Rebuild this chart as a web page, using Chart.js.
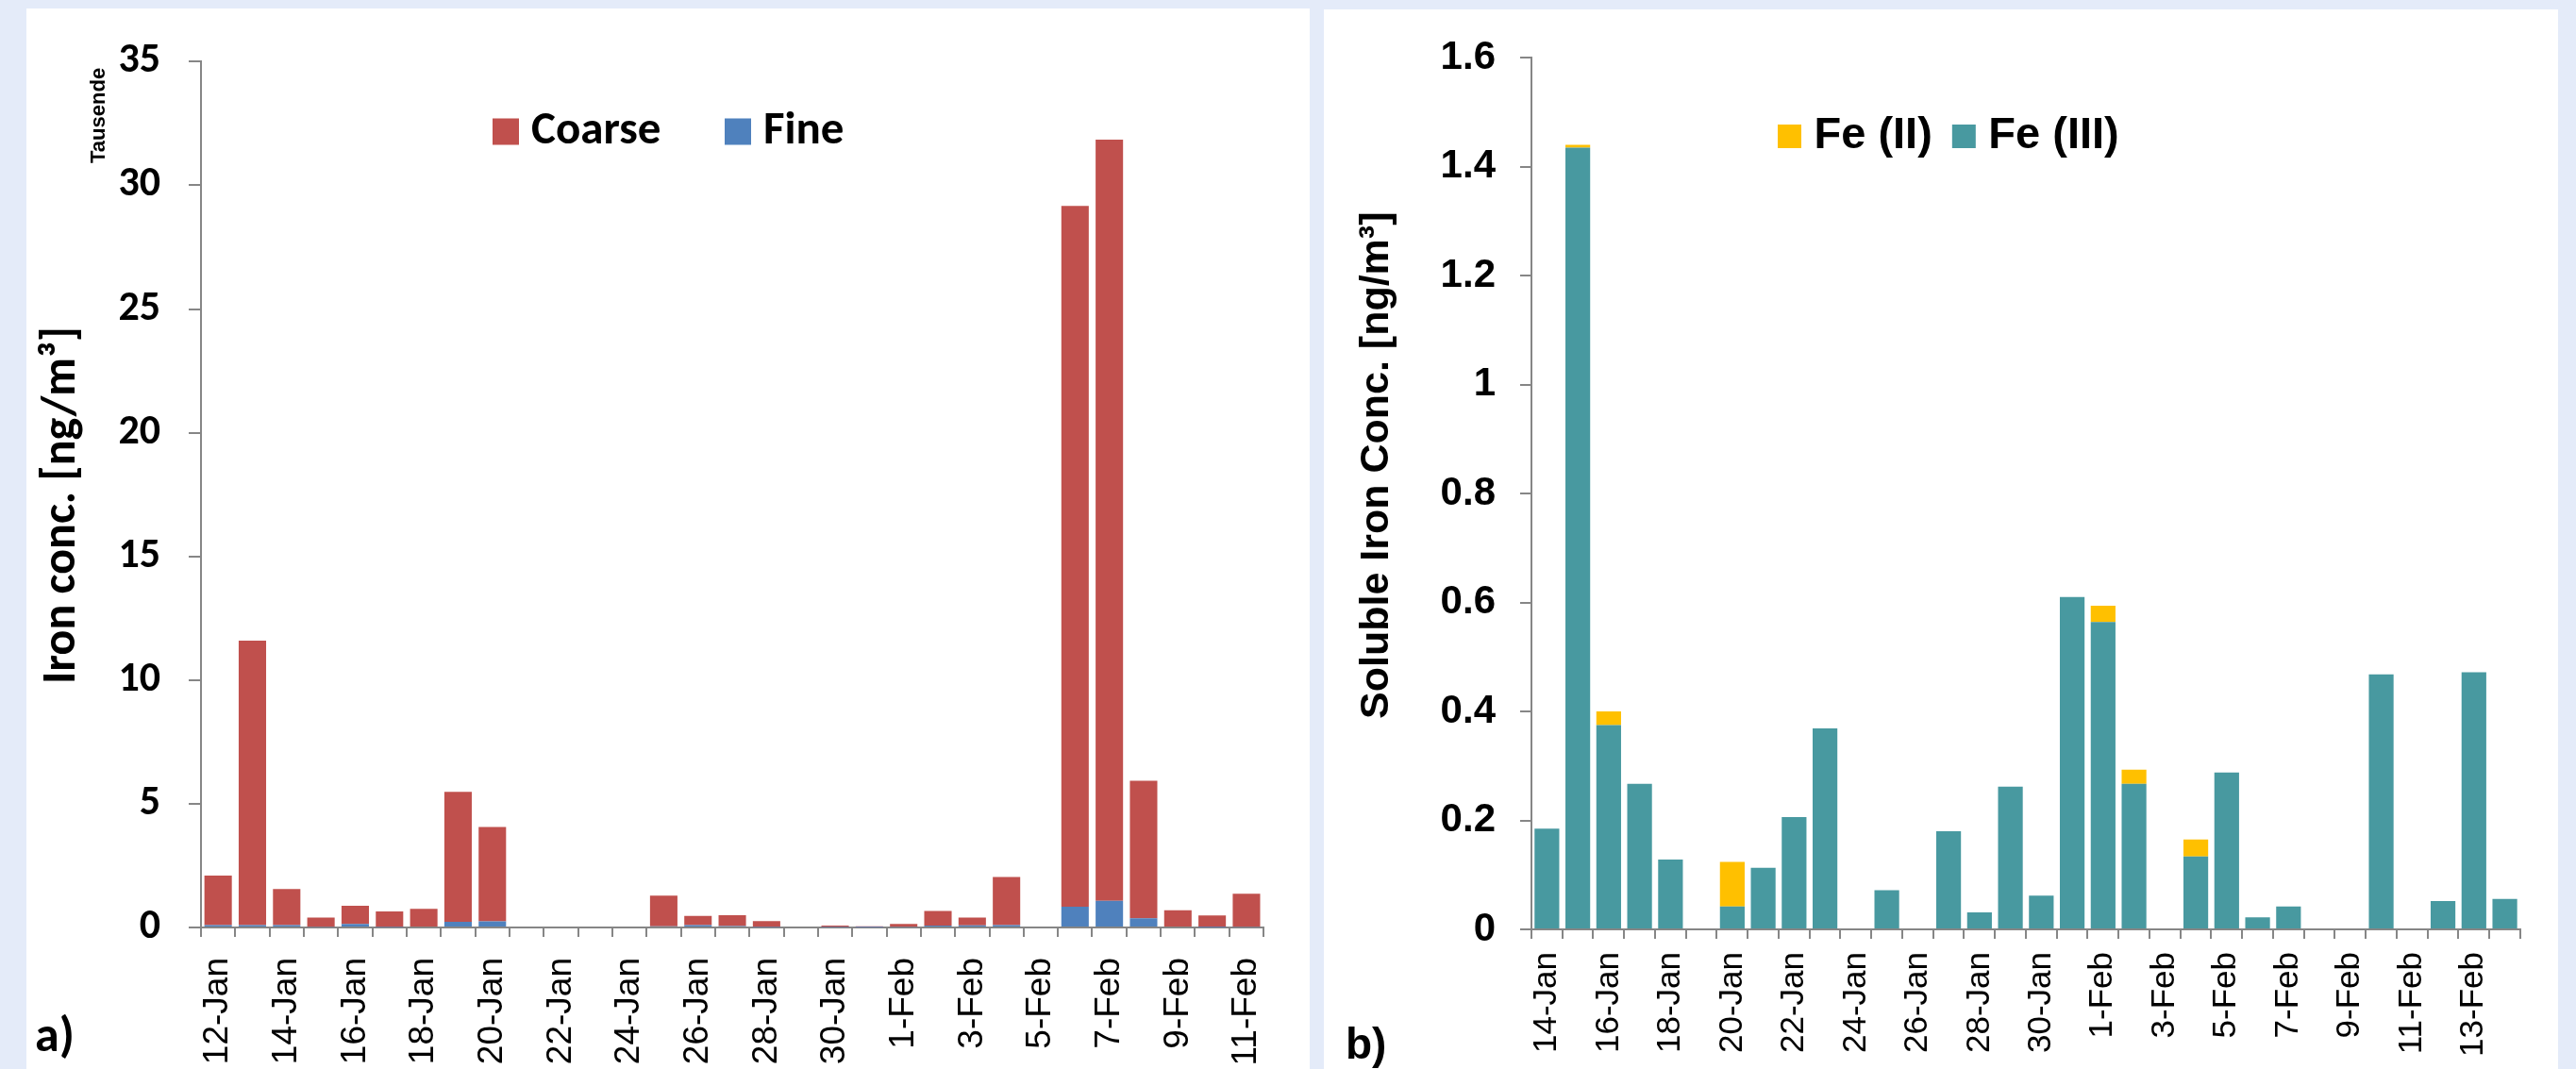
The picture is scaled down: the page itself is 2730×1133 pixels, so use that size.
<!DOCTYPE html>
<html>
<head>
<meta charset="utf-8">
<title>Iron concentrations</title>
<script src="https://cdn.jsdelivr.net/npm/chart.js@4/dist/chart.umd.min.js"></script>
<style>
  html, body { margin: 0; padding: 0; width: 2730px; height: 1133px; overflow: hidden; background: #E4EBF9; }
  .panel { position: absolute; background: #ffffff; overflow: hidden; }
  #panelA { left: 28px; top: 9px; width: 1360px; height: 1124px; }
  #panelB { left: 1403px; top: 10px; width: 1308px; height: 1123px; }
  canvas { display: block; }
</style>
</head>
<body>
<div class="panel" id="panelA"><canvas id="chartA" width="1360" height="1124"></canvas></div>
<div class="panel" id="panelB"><canvas id="chartB" width="1308" height="1123"></canvas></div>
<script>
// ---- a) total iron, coarse and fine fractions (thousands of ng/m3) ----
const DATES_A = ['12-Jan','13-Jan','14-Jan','15-Jan','16-Jan','17-Jan','18-Jan','19-Jan','20-Jan','21-Jan',
                 '22-Jan','23-Jan','24-Jan','25-Jan','26-Jan','27-Jan','28-Jan','29-Jan','30-Jan','31-Jan',
                 '1-Feb','2-Feb','3-Feb','4-Feb','5-Feb','6-Feb','7-Feb','8-Feb','9-Feb','10-Feb','11-Feb'];
const COARSE = [2.00, 11.50, 1.45, 0.37, 0.74, 0.63, 0.71, 5.25, 3.81, null,
                null, null, null, 1.24, 0.37, 0.44, 0.24, null, 0.06, 0.04,
                0.11, 0.59, 0.31, 1.94, null, 28.33, 30.77, 5.56, 0.66, 0.48, 1.33];
const FINE   = [0.10, 0.10, 0.10, 0.03, 0.14, 0.02, 0.04, 0.23, 0.25, null,
                null, null, null, 0.05, 0.10, 0.06, 0.02, null, 0.02, 0.01,
                0.03, 0.08, 0.09, 0.10, null, 0.84, 1.08, 0.37, 0.04, 0.01, 0.03];
const Y_TICKS_A = [0, 5, 10, 15, 20, 25, 30, 35];
const Y_LABELS_A = ['0', '5', '10', '15', '20', '25', '30', '35'];

// ---- b) soluble iron, Fe(II) and Fe(III) (ng/m3) ----
const DATES_B = ['14-Jan','15-Jan','16-Jan','17-Jan','18-Jan','19-Jan','20-Jan','21-Jan','22-Jan','23-Jan',
                 '24-Jan','25-Jan','26-Jan','27-Jan','28-Jan','29-Jan','30-Jan','31-Jan','1-Feb','2-Feb',
                 '3-Feb','4-Feb','5-Feb','6-Feb','7-Feb','8-Feb','9-Feb','10-Feb','11-Feb','12-Feb','13-Feb','14-Feb'];
const FE3 = [0.185, 1.435, 0.375, 0.267, 0.128, null, 0.042, 0.113, 0.206, 0.369,
             null, 0.072, null, 0.180, 0.031, 0.262, 0.062, 0.610, 0.564, 0.267,
             null, 0.134, 0.288, 0.022, 0.042, null, null, 0.468, null, 0.052, 0.472, 0.056];
const FE2 = [null, 0.005, 0.025, null, null, null, 0.082, null, null, null,
             null, null, null, null, null, null, null, null, 0.030, 0.026,
             null, 0.031, null, null, null, null, null, null, null, null, null, null];
const Y_TICKS_B = [0, 0.2, 0.4, 0.6, 0.8, 1, 1.2, 1.4, 1.6];
const Y_LABELS_B = ['0', '0.2', '0.4', '0.6', '0.8', '1', '1.2', '1.4', '1.6'];

const AXIS_GREY = '#868686';
const CALIBRI = "Carlito, Lato, 'Open Sans', sans-serif";
const ARIAL = "'Liberation Sans', Arial, sans-serif";

// Keeps the legend out of the layout and places it inside the plot area.
const legendPlacer = {
  id: 'legendPlacer',
  beforeLayout(chart) {
    const lg = chart.legend;
    if (lg && !lg.__patched) {
      const fit = lg.fit;
      lg.fit = function () { fit.call(this); this.__fullHeight = this.height; this.height = 0; };
      lg.__patched = true;
    }
  },
  afterLayout(chart, args, opts) {
    const lg = chart.legend;
    if (!lg) return;
    const w = lg.width;
    lg.left = opts.x - opts.padding;
    lg.right = lg.left + w;
    lg.top = opts.cy - opts.padding - opts.fontSize / 2;
    lg.height = lg.__fullHeight;
    lg.bottom = lg.top + lg.__fullHeight;
  }
};

// Extra captions: panel letters and the display-unit note.
const panelNotes = {
  id: 'panelNotes',
  afterDraw(chart, args, opts) {
    const ctx = chart.ctx;
    const area = chart.chartArea;
    (opts.items || []).forEach(it => {
      ctx.save();
      ctx.font = it.font;
      ctx.fillStyle = '#000000';
      ctx.textAlign = it.align || 'left';
      ctx.textBaseline = it.baseline || 'alphabetic';
      const x = it.fromArea ? area.left + it.x : it.x;
      const y = it.fromArea ? area.top + it.y : it.y;
      ctx.translate(x, y);
      if (it.rotate) ctx.rotate(it.rotate);
      ctx.fillText(it.text, 0, 0);
      ctx.restore();
    });
  }
};

function buildChart(id, cfg) {
  const lgd = cfg.legend;
  // square legend keys: narrow nominal box, rect point style sized by boxHeight
  const keyW = 5;
  return new Chart(document.getElementById(id), {
    type: 'bar',
    data: { labels: cfg.dates, datasets: cfg.datasets },
    plugins: [legendPlacer, panelNotes],
    options: {
      responsive: false,
      devicePixelRatio: 1,
      animation: false,
      events: [],
      layout: { padding: cfg.padding },
      datasets: { bar: { categoryPercentage: 1.0, barPercentage: 0.8, borderWidth: 0 } },
      scales: {
        x: {
          stacked: true,
          offset: true,
          afterFit(scale) { scale.height = cfg.xHeight; },
          border: { display: true, color: AXIS_GREY, width: 2 },
          grid: { offset: true, drawOnChartArea: false, drawTicks: true, tickLength: 10, color: AXIS_GREY, lineWidth: 2 },
          ticks: {
            autoSkip: false, maxRotation: 90, minRotation: 90,
            padding: cfg.xPad, color: '#000000',
            font: { family: ARIAL, size: cfg.xFont, weight: 'normal' },
            callback: (v, i) => (i % 2 === 0 ? cfg.dates[i] : '')
          }
        },
        y: {
          stacked: true,
          min: 0, max: cfg.yMax,
          afterFit(scale) { scale.width = cfg.yWidth; },
          afterBuildTicks(scale) { scale.ticks = cfg.yTicks.map(v => ({ value: v })); },
          border: { display: true, color: AXIS_GREY, width: 2 },
          grid: { drawOnChartArea: false, drawTicks: true, tickLength: cfg.yTickLen, color: AXIS_GREY, lineWidth: 2 },
          ticks: {
            padding: cfg.yPad, color: '#000000',
            font: cfg.yTickFont,
            callback: (v, i) => cfg.yLabels[i]
          },
          title: {
            display: true, text: cfg.yTitle, color: '#000000',
            font: cfg.yTitleFont,
            padding: { top: cfg.yTitlePad, bottom: 0 }
          }
        }
      },
      plugins: {
        tooltip: { enabled: false },
        legend: {
          display: true, position: 'top', align: 'start', reverse: true,
          labels: {
            color: '#000000', usePointStyle: true, pointStyle: 'rect',
            boxWidth: keyW, boxHeight: lgd.box,
            padding: lgd.gap, font: lgd.font
          }
        },
        legendPlacer: {
          x: lgd.left - keyW / 2 + lgd.box / 2, cy: lgd.cy,
          padding: lgd.gap, fontSize: lgd.font.size
        },
        panelNotes: { items: cfg.notes }
      }
    }
  });
}

// Panel a)
buildChart('chartA', {
  dates: DATES_A,
  datasets: [
    { label: 'Fine', data: FINE, backgroundColor: '#4F81BD' },
    { label: 'Coarse', data: COARSE, backgroundColor: '#C0504D' }
  ],
  padding: { top: 52, right: 40, bottom: 0, left: 0 },
  xHeight: 150, xPad: 22, xFont: 37,
  yWidth: 185, yMax: 35, yTicks: Y_TICKS_A, yLabels: Y_LABELS_A,
  yTickLen: 13, yPad: 30,
  yTickFont: { family: CALIBRI, size: 44, weight: 'bold' },
  yTitle: 'Iron conc. [ng/m³]  ',
  yTitleFont: { family: CALIBRI, size: 50, weight: 'bold', lineHeight: 1 },
  yTitlePad: 13,
  legend: { left: 494, cy: 130.5, box: 28, gap: 79,
            font: { family: CALIBRI, size: 49, weight: 'bold' } },
  notes: [
    { text: 'Tausende', font: "bold 22px " + ARIAL, fromArea: true,
      x: -108, y: 57, rotate: -Math.PI / 2, align: 'center', baseline: 'middle' },
    { text: 'a)', font: "bold 52px " + CALIBRI, x: 9, y: 1105 }
  ]
});

// Panel b)
buildChart('chartB', {
  dates: DATES_B,
  datasets: [
    { label: 'Fe (III)', data: FE3, backgroundColor: '#4899A0' },
    { label: 'Fe (II)', data: FE2, backgroundColor: '#FFC000' }
  ],
  padding: { top: 43, right: 28, bottom: 0, left: 0 },
  xHeight: 148, xPad: 14, xFont: 35,
  yWidth: 220, yMax: 1.6, yTicks: Y_TICKS_B, yLabels: Y_LABELS_B,
  yTickLen: 12, yPad: 26,
  yTickFont: { family: ARIAL, size: 42, weight: 'bold' },
  yTitle: '     Soluble Iron Conc. [ng/m³]',
  yTitleFont: { family: ARIAL, size: 43, weight: 'bold', lineHeight: 1 },
  yTitlePad: 35,
  legend: { left: 481, cy: 134.5, box: 25, gap: 31,
            font: { family: ARIAL, size: 47, weight: 'bold' } },
  notes: [
    { text: 'b)', font: "bold 46px " + ARIAL, x: 23, y: 1112 }
  ]
});
</script>
</body>
</html>
